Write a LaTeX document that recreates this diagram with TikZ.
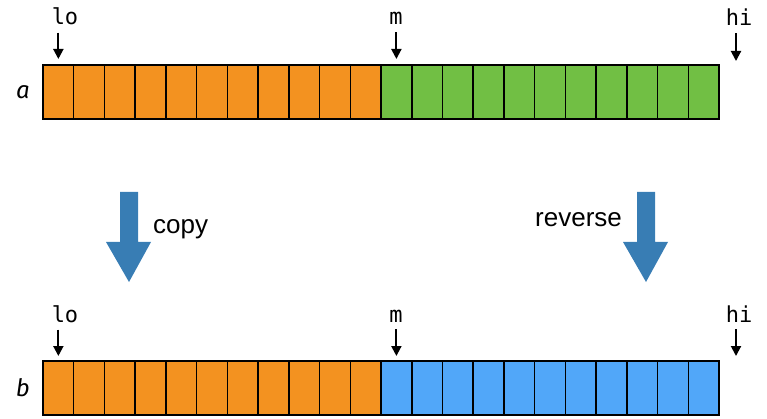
\documentclass[tikz,border=0pt]{standalone}
\usepackage{fontspec}
\setmainfont{Liberation Sans}
\newfontfamily\codefont{DejaVu Sans Mono}
\newfontfamily\varfont{Fira Sans}
\usetikzlibrary{arrows.meta,calc,positioning}

\definecolor{lowhalf}{RGB}{243,146,32}
\definecolor{highhalf}{RGB}{113,191,68}
\definecolor{revhalf}{RGB}{81,167,249}
\definecolor{bigblue}{RGB}{56,125,180}

\tikzset{%
	cell/.style  = {draw, rectangle, line width=1.5pt, minimum width=30.73pt, minimum height=54pt, inner sep=0pt, outer sep=0pt},
	frame/.style = {draw, line width=2.2pt},
	ptr/.style   = {line width=2pt, -{Triangle[length=10pt,width=10pt]}},
	idx/.style   = {font=\codefont\fontsize{22}{22}\selectfont, inner sep=0pt, anchor=base},
	arr/.style   = {font=\varfont\itshape\fontsize{24}{24}\selectfont, inner sep=0pt},
	op/.style    = {font=\fontsize{26}{26}\selectfont, inner sep=0pt, anchor=base west},
}

\begin{document}
\begin{tikzpicture}[x=1pt,y=-1pt]
	\useasboundingbox (0,0) rectangle (767,419);

	% array a: low half orange, high half green
	\foreach \i in {1,...,22} {
		\ifnum\i<12 \def\cellcol{lowhalf}\else\def\cellcol{highhalf}\fi
		\node[cell, fill=\cellcol] (a\i) at ({43+(\i-0.5)*30.73},92) {};
	}
	\draw[frame] (a1.north west) rectangle (a22.south east);
	\coordinate (aend) at (736,92);

	% array b: copied half orange, reversed half blue
	\foreach \i in {1,...,22} {
		\ifnum\i<12 \def\cellcol{lowhalf}\else\def\cellcol{revhalf}\fi
		\node[cell, fill=\cellcol] (b\i) at ({43+(\i-0.5)*30.73},388) {};
	}
	\draw[frame] (b1.north west) rectangle (b22.south east);
	\coordinate (bend) at (736,388);

	\node[arr, left=13pt of a1] (aname) {a};
	\node[arr, left=13pt of b1] (bname) {b};

	% index pointers
	\node[idx] (loa) at (65,25) {lo};
	\node[idx] (ma)  at (396,25) {m};
	\node[idx] (hia) at (739,26) {hi};
	\node[idx] (lob) at (65,322) {lo};
	\node[idx] (mb)  at (396,322) {m};
	\node[idx] (hib) at (739,322) {hi};

	\draw[ptr] ($(loa.south -| a1)+(0,7)$) -- ($(a1.north)+(0,-6)$);
	\draw[ptr] ($(ma.south -| a12)+(0,7)$) -- ($(a12.north)+(0,-6)$);
	\draw[ptr] ($(hia.south -| aend)+(0,7)$) -- ($(a1.north -| aend)+(0,-4)$);
	\draw[ptr] ($(lob.south -| b1)+(0,7)$) -- ($(b1.north)+(0,-5)$);
	\draw[ptr] ($(mb.south -| b12)+(0,7)$) -- ($(b12.north)+(0,-5)$);
	\draw[ptr] ($(hib.south -| bend)+(0,7)$) -- ($(b1.north -| bend)+(0,-5)$);

	% block arrows between the rows
	\foreach \x in {129,646}
		\fill[bigblue] (\x-9,192) -- ++(18,0) -- ++(0,50) -- ++(13,0) -- (\x,282) -- (\x-23,242) -- ++(14,0) -- cycle;

	\node[op] (copylbl) at (153,234) {copy};
	\node[op] (revlbl) at (535,227) {reverse};
\end{tikzpicture}
\end{document}
